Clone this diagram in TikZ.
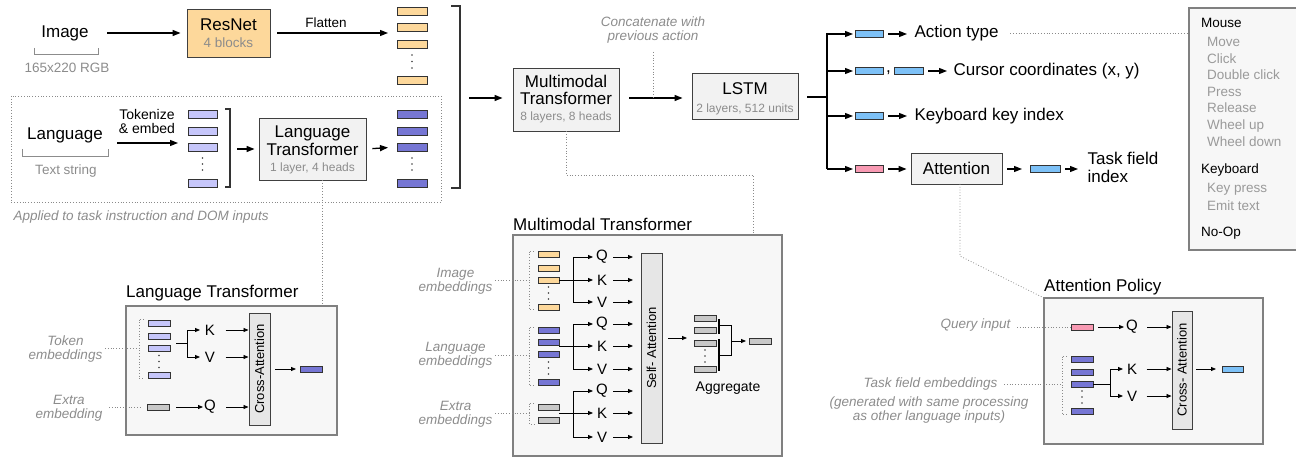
\documentclass[tikz,border=0pt]{standalone}
\usepackage{fontspec}
\setmainfont{Liberation Sans}
\usetikzlibrary{arrows.meta}
\definecolor{orng}{HTML}{FDD89B}
\definecolor{lpur}{HTML}{C6C6FA}
\definecolor{dpur}{HTML}{7676D4}
\definecolor{lblue}{HTML}{7DC1F7}
\definecolor{pnk}{HTML}{F89AB3}
\definecolor{gemb}{HTML}{C8C8C8}
\definecolor{boxfill}{HTML}{F2F2F2}
\definecolor{panel}{HTML}{F7F7F7}
\definecolor{subgray}{HTML}{8C8C8C}
\definecolor{itemgray}{HTML}{9A9A9A}
\definecolor{dotgray}{HTML}{8A8A8A}
\newcommand\vdts[2]{\foreach \yy in {#2}{\fill[black!75] (#1,\yy) circle (0.85pt);}}
\tikzset{
 fbig/.style={font=\fontsize{17}{18}\selectfont},
 fsub/.style={font=\fontsize{13.5}{15}\selectfont, text=subgray},
 fboxsub/.style={font=\fontsize{12}{13}\selectfont, text=subgray},
 fita/.style={font=\fontsize{13.5}{14}\selectfont\itshape, text=subgray, align=center},
 fqkv/.style={font=\fontsize{15}{17}\selectfont},
 flist/.style={font=\fontsize{13.5}{15}\selectfont, anchor=west, inner sep=0pt},
 mainbox/.style={draw=black!75, fill=boxfill, line width=0.9pt, inner sep=0pt},
 panelbox/.style={draw=black!50, fill=panel, line width=1.5pt},
 emb/.style={draw=black!80, line width=0.8pt, fill=#1, minimum width=30pt, minimum height=8pt, inner sep=0pt, outer sep=0pt},
 semb/.style={draw=black!80, line width=0.7pt, fill=#1, minimum width=22pt, minimum height=6pt, inner sep=0pt, outer sep=0pt},
 arr/.style={line width=1.3pt, -{Triangle[length=8pt,width=6pt]}},
 sarr/.style={line width=0.8pt, -{Triangle[length=5pt,width=4pt]}},
 lw/.style={line width=1.3pt},
 slw/.style={line width=0.9pt},
 dotl/.style={dotted, draw=dotgray, line width=0.8pt},
 brk/.style={line width=1.1pt, draw=black!80},
}
\begin{document}
\begin{tikzpicture}[x=1pt,y=-1pt]
\useasboundingbox (0,0) rectangle (1296,457);

% ---------------- Image branch ----------------
\node[fbig] (img) at (65,33) {Image};
\draw[draw=subgray, line width=0.9pt] (34,48) |- (98,54) -- (98,48);
\node[fsub] (imgsub) at (67,68) {165x220 RGB};
\node[mainbox, fill=orng, minimum width=83pt, minimum height=48pt] (resnet) at (228.5,33) {};
\node[fbig] (resnett) at (228.5,25) {ResNet};
\node[fsub] (resnets) at (228.5,43) {4 blocks};
\draw[arr] ([xshift=15pt]img.east) -- ([xshift=-6pt]resnet.west);
\coordinate (flatend) at (388,33);
\draw[arr] ([xshift=7pt]resnet.east) -- (flatend);
\node[font=\fontsize{13.5}{15}\selectfont] (flat) at (326,23) {Flatten};
\foreach \n/\y in {1/11,2/27,3/44,4/80} \node[emb=orng] (o\n) at (412,\y) {};
\vdts{412}{55,61.5,68}

% ---------------- Language branch ----------------
\draw[dotl] (11,96) rectangle (441,202);
\node[fbig] (lang) at (65,135) {Language};
\draw[draw=subgray, line width=0.9pt] (22,149) |- (108,156) -- (108,149);
\node[fsub] (langsub) at (66,171) {Text string};
\node[font=\fontsize{14}{14}\selectfont, align=center] (tok) at (147,121) {Tokenize\\\& embed};
\coordinate (tokA) at (117,143);
\coordinate (tokB) at (178,143);
\draw[arr] (tokA) -- (tokB);
\foreach \n/\y in {1/114,2/131,3/147,4/183} \node[emb=lpur, minimum width=29pt] (l\n) at (202.5,\y) {};
\vdts{202.5}{158,164,170}
\draw[brk] (225,109) -- (230,109) -- (230,187) -- (225,187);
\node[mainbox, minimum width=107pt, minimum height=62pt] (lt) at (312.5,149) {};
\node[fbig] (ltt1) at (312.5,133) {Language};
\node[fbig] (ltt2) at (312.5,149.5) {Transformer};
\node[fboxsub] (lts) at (312.5,168) {1 layer, 4 heads};
\coordinate (lbr) at (230,149);
\draw[arr, shorten <=7pt, shorten >=4pt] (lbr) -- (lt.west);
\foreach \n/\y in {1/114,2/131,3/147,4/183} \node[emb=dpur] (d\n) at (412,\y) {};
\vdts{412}{158,164,170}
\draw[arr, shorten <=6pt, shorten >=9pt] (lt.east) -- (d3.west);
\node[fita, anchor=west] (applied) at (10,217) {Applied to task instruction and DOM inputs};

% ---------------- Middle ----------------
\draw[brk, line width=1.3pt] (451,6) -- (460,6) -- (460,188) -- (451,188);
\coordinate (bbr) at (460,98);
\node[mainbox, minimum width=106pt, minimum height=63pt] (mmt) at (566,99.5) {};
\node[fbig] (mmt1) at (566,81) {Multimodal};
\node[fbig] (mmt2) at (566,98) {Transformer};
\node[fboxsub] (mmts) at (566,117) {8 layers, 8 heads};
\draw[arr, shorten <=9pt, shorten >=10pt] (bbr) -- (bbr -| mmt.west);
\node[mainbox, minimum width=106pt, minimum height=46pt] (lstm) at (745,96) {};
\node[fbig] (lstmt) at (745,89) {LSTM};
\node[fboxsub] (lstms) at (745,109) {2 layers, 512 units};
\draw[arr, shorten <=10pt, shorten >=9pt] (bbr -| mmt.east) -- (bbr -| lstm.west);
\node[fita] (concat) at (653,30) {Concatenate with\\previous action};
\coordinate (cc1) at (653,52);
\draw[dotl] (cc1) -- (cc1 |- bbr);

% ---------------- Outputs ----------------
\coordinate (br) at (827,97);
\draw[lw] (807,97) -- (br);
\draw[lw] (827,33) -- (827,169);
\node[emb=lblue, minimum width=28pt, minimum height=7pt] (b1) at (869,34) {};
\node[emb=lblue, minimum width=28pt, minimum height=7pt] (b2) at (869,71) {};
\node[emb=lblue, minimum width=29pt, minimum height=7pt] (b3) at (908.5,71) {};
\node[emb=lblue, minimum width=28pt, minimum height=7pt] (b4) at (869,116) {};
\node[emb=pnk, minimum width=28pt, minimum height=7pt] (p1) at (869,169) {};
\foreach \t in {b1,b2,b4,p1} \draw[arr, shorten >=2pt] (827,0 |- \t.west) -- (\t.west);
\node[fbig, inner sep=0pt] (comma) at (888.5,73) {,};
\node[fbig, anchor=west] (atype) at (911,33) {Action type};
\node[fbig, anchor=west] (cursor) at (950,71) {Cursor coordinates (x, y)};
\node[fbig, anchor=west] (kbd) at (911,116) {Keyboard key index};
\node[mainbox, minimum width=91pt, minimum height=31pt] (attn) at (956.5,168.5) {};
\node[fbig] (attnt) at (956.5,168) {Attention};
\node[emb=lblue, minimum width=30pt, minimum height=7pt] (b5) at (1045,169) {};
\node[fbig, anchor=west, align=left, font=\fontsize{17}{18}\selectfont] (tfi) at (1084,167) {Task field\\index};
\draw[arr, shorten <=5pt, shorten >=4pt] (b1.east) -- (b1.east -| atype.west);
\draw[arr, shorten <=5pt, shorten >=3pt] (b3.east) -- (b3.east -| cursor.west);
\draw[arr, shorten <=5pt, shorten >=4pt] (b4.east) -- (b4.east -| kbd.west);
\draw[arr, shorten <=5pt, shorten >=4pt] (p1.east) -- (p1.east -| attn.west);
\draw[arr, shorten <=5pt, shorten >=8pt] (p1.east -| attn.east) -- (b5.west);
\draw[arr, shorten <=5pt, shorten >=6pt] (b5.east) -- (b5.east -| tfi.west);

% action list
\fill[panel] (1189,8) rectangle (1296,250);
\draw[draw=black!50, line width=1.5pt] (1297,8) -- (1189,8) -- (1189,250) -- (1297,250);
\coordinate (alist) at (1189,33);
\draw[dotl] ([xshift=8pt]atype.east) -- (alist);
\node[flist] (mouse) at (1201,23) {Mouse};
\foreach \t/\y in {Move/42,Click/59,Double click/75,Press/92,Release/108,Wheel up/126,Wheel down/142,Key press/189,Emit text/206}
  \node[flist, text=itemgray] at (1207,\y) {\t};
\node[flist] (keyb) at (1201,170) {Keyboard};
\node[flist] (noop) at (1201,233) {No-Op};

% ---------------- Bottom-left: Language Transformer ----------------
\draw[panelbox] (126,306) rectangle (337,435);
\node[fbig, anchor=west, inner sep=0pt] (ltitle) at (126,293) {Language Transformer};
\coordinate (ltdot) at (322,180);
\draw[dotl] (ltdot) -- (322,306);
\foreach \n/\y in {1/323,2/336,3/348,4/375} \node[semb=lpur] (t\n) at (159,\y) {};
\vdts{159}{355.5,361.5,367.5}
\draw[dotl] (144,319) -- (139,319) -- (139,378) -- (144,378);
\node[fita] (tokemb) at (65.5,349) {Token\\embeddings};
\draw[dotl] (105,348) -- (139,348);
\node[semb=gemb] (e1) at (158.5,407) {};
\node[fita] (extemb) at (69,408) {Extra\\embedding};
\draw[dotl] (109,407) -- (142,407);
\draw[slw] (176,343) -- (187,343);
\draw[slw] (187,330) -- (187,357);
\draw[sarr] (187,330) -- (200,330);
\draw[sarr] (187,357) -- (200,357);
\draw[sarr] (176,407) -- (203,407);
\node[fqkv] (k1) at (210,330) {K};
\node[fqkv] (v1) at (210,357) {V};
\node[fqkv] (q1) at (210,407) {Q};
\node[mainbox, fill=boxfill!95!black, rotate=90, minimum width=112pt, minimum height=21pt, font=\fontsize{13}{14}\selectfont] (ca1) at (259.5,369) {Cross-Attention};
\foreach \t in {k1,v1,q1} \draw[sarr] ([xshift=7pt]\t.east) -- (\t.east -| ca1.north) ;
\node[semb=dpur] (out1) at (311,369) {};
\draw[sarr, shorten <=5pt, shorten >=4pt] (ca1.south |- out1) -- (out1.west);

% ---------------- Bottom-middle: Multimodal Transformer ----------------
\coordinate (mmdot) at (566,131);
\draw[dotl] (mmdot) -- (566,175) -- (753,175) -- (753,235);
\draw[panelbox] (513,235) rectangle (782,456);
\node[fbig, anchor=west, inner sep=0pt] (mtitle) at (513,224) {Multimodal Transformer};
\node[mainbox, fill=boxfill!95!black, rotate=90, minimum width=190pt, minimum height=21pt, font=\fontsize{13}{14}\selectfont] (sa) at (651.5,348) {Self- Attention};
% image
\foreach \n/\y in {1/254,2/268,3/280,4/307} \node[semb=orng, minimum width=21pt] (mi\n) at (548.5,\y) {};
\vdts{548.5}{287,293,299}
\draw[dotl] (534,251) -- (529,251) -- (529,309) -- (534,309);
\node[fita] (imemb) at (455.5,281) {Image\\embeddings};
\draw[dotl] (495,280) -- (529,280);
% language
\foreach \n/\y in {1/330,2/342,3/354,4/382} \node[semb=dpur, minimum width=21pt] (ml\n) at (548.5,\y) {};
\vdts{548.5}{362,368,374}
\draw[dotl] (534,327) -- (529,327) -- (529,385) -- (534,385);
\node[fita] (lgemb) at (455.5,355) {Language\\embeddings};
\draw[dotl] (495,355) -- (529,355);
% extra
\foreach \n/\y in {1/407,2/420} \node[semb=gemb, minimum width=21pt] (me\n) at (548.5,\y) {};
\draw[dotl] (534,403) -- (529,403) -- (529,424) -- (534,424);
\node[fita] (exemb) at (455.5,414) {Extra\\embeddings};
\draw[dotl] (495,413) -- (529,413);
% forks
\foreach \q/\k/\v [count=\i] in {257/280/302,324/346/369,391/413/437}{
  \draw[sarr] (559,\k) -- (593,\k);
  \draw[slw] (573,\q) -- (573,\v);
  \draw[sarr] (573,\q) -- (593,\q);
  \draw[sarr] (573,\v) -- (593,\v);
  \node[fqkv] (mq\i) at (602,\q) {Q};
  \node[fqkv] (mk\i) at (602,\k) {K};
  \node[fqkv] (mv\i) at (602,\v) {V};
  \draw[sarr] (613,\q) -- (633,\q);
  \draw[sarr] (613,\k) -- (633,\k);
  \draw[sarr] (613,\v) -- (633,\v);
}
\foreach \n/\y in {1/318,2/330,3/343,4/369} \node[semb=gemb] (ag\n) at (705,\y) {};
\vdts{705}{350,356,362}
\draw[sarr, shorten <=6pt, shorten >=7pt] (sa.south |- 0,338) -- (ag3.west |- 0,338);
\draw[line width=1.2pt] (719,319) -- (719,334);
\draw[line width=1.2pt] (719,339) -- (719,371);
\draw[slw] (719,325) -- (731,325) -- (731,355) -- (719,355);
\node[semb=gemb] (agout) at (760,341) {};
\draw[sarr, shorten >=3pt] (731,341) -- (agout.west);
\node[font=\fontsize{14}{15}\selectfont] (aggt) at (728,388) {Aggregate};

% ---------------- Bottom-right: Attention Policy ----------------
\coordinate (atdot) at (960,184);
\draw[dotl] (atdot) -- (960,256) -- (1044,298);
\draw[panelbox] (1044,298) rectangle (1263,444);
\node[fbig, anchor=west, inner sep=0pt] (atitle) at (1044,287) {Attention Policy};
\node[semb=pnk] (qp) at (1082,327) {};
\node[fita, anchor=east] (qin) at (1014,325) {Query input};
\draw[dotl] (1017,327) -- (qp.west);
\node[mainbox, fill=boxfill!95!black, rotate=90, minimum width=118pt, minimum height=20pt, font=\fontsize{13}{14}\selectfont] (ca2) at (1182,370) {Cross- Attention};
\node[fqkv] (q3) at (1132,327) {Q};
\draw[sarr, shorten <=5pt] (qp.east) -- (1124,327);
\foreach \n/\y in {1/359,2/372,3/384,4/411} \node[semb=dpur] (tf\n) at (1082,\y) {};
\vdts{1082}{391,397,403}
\draw[dotl] (1067,356) -- (1062,356) -- (1062,414) -- (1067,414);
\node[fita, anchor=east] (tfemb) at (1001,384) {Task field embeddings};
\draw[dotl] (1004,384) -- (1062,384);
\node[fita] (gen) at (929,410) {(generated with same processing\\as other language inputs)};
\draw[slw] (tf3.east) -- (1110,384);
\draw[slw] (1110,369) -- (1110,396);
\draw[sarr] (1110,369) -- (1123,369);
\draw[sarr] (1110,396) -- (1123,396);
\node[fqkv] (k3) at (1132,369) {K};
\node[fqkv] (v3) at (1132,396) {V};
\foreach \t in {q3,k3,v3} \draw[sarr] ([xshift=6pt]\t.east) -- (\t.east -| ca2.north);
\node[semb=lblue, minimum width=21pt] (out3) at (1232.5,369) {};
\draw[sarr, shorten <=4pt, shorten >=6pt] (ca2.south |- out3) -- (out3.west);
\end{tikzpicture}
\end{document}
